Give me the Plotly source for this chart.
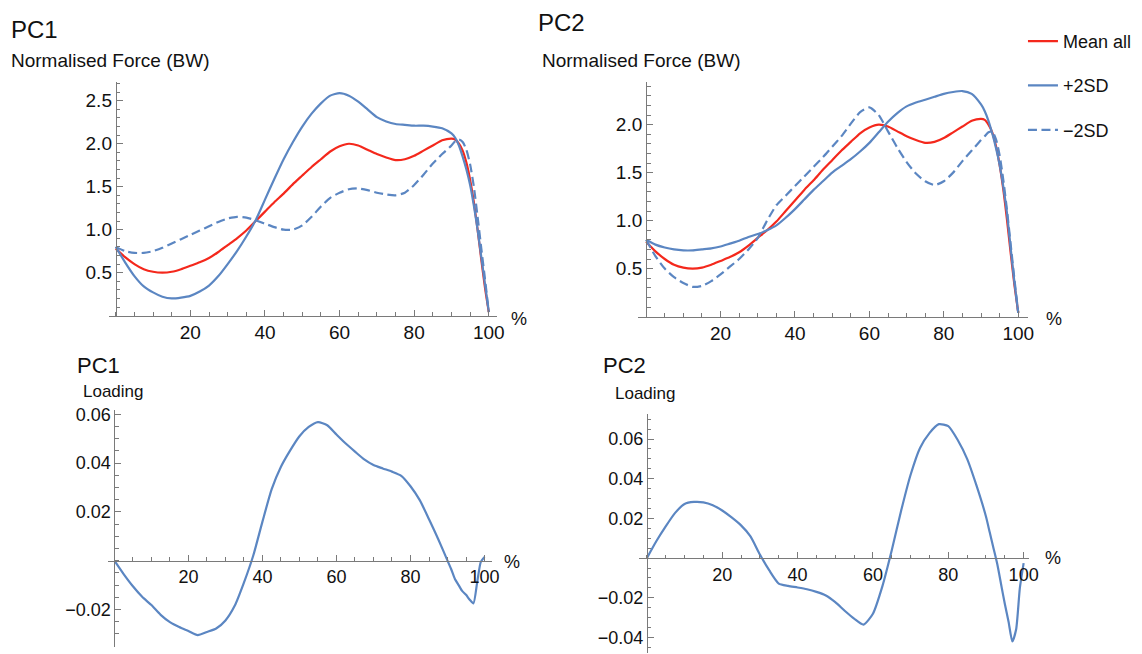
import plotly.graph_objects as go

# ---------------- data ----------------
pct = [0, 2.5, 5, 7.5, 10, 12.5, 15, 17.5, 20, 22.5, 25, 27.5, 30, 32.5, 35, 37.5,
       40, 42.5, 45, 47.5, 50, 52.5, 55, 57.5, 60, 62.5, 65, 67.5, 70, 72.5, 75, 77.5,
       80, 82.5, 85, 87.5, 90, 91, 92, 93, 94, 95, 96, 97, 98, 99, 100]

mean_all = [0.78, 0.68, 0.60, 0.54, 0.51, 0.50, 0.51, 0.54, 0.58, 0.62, 0.67, 0.74, 0.82, 0.90, 0.99, 1.10,
            1.21, 1.32, 1.42, 1.53, 1.63, 1.73, 1.82, 1.91, 1.97, 2.00, 1.98, 1.93, 1.88, 1.84, 1.81, 1.82,
            1.86, 1.92, 1.98, 2.04, 2.06, 2.05, 2.00, 1.92, 1.78, 1.58, 1.32, 1.00, 0.65, 0.32, 0.04]

pc1_plus = [0.80, 0.62, 0.46, 0.34, 0.27, 0.22, 0.20, 0.21, 0.23, 0.28, 0.35, 0.46, 0.60, 0.75, 0.92, 1.11,
            1.35, 1.59, 1.82, 2.02, 2.20, 2.35, 2.47, 2.56, 2.59, 2.56, 2.49, 2.40, 2.31, 2.26, 2.23, 2.22,
            2.21, 2.21, 2.20, 2.18, 2.12, 2.07, 1.98, 1.85, 1.70, 1.52, 1.28, 1.00, 0.68, 0.36, 0.05]

pc1_minus = [0.80, 0.75, 0.73, 0.73, 0.75, 0.79, 0.84, 0.89, 0.94, 0.99, 1.04, 1.09, 1.13, 1.15, 1.14, 1.11,
             1.07, 1.03, 1.00, 1.00, 1.05, 1.15, 1.27, 1.37, 1.43, 1.47, 1.48, 1.46, 1.43, 1.41, 1.40, 1.43,
             1.52, 1.64, 1.77, 1.88, 1.98, 2.03, 2.05, 2.02, 1.93, 1.76, 1.50, 1.15, 0.78, 0.42, 0.04]

pc2_plus = [0.80, 0.75, 0.72, 0.70, 0.69, 0.69, 0.70, 0.71, 0.73, 0.76, 0.79, 0.83, 0.86, 0.90, 0.95, 1.03,
            1.12, 1.22, 1.32, 1.41, 1.50, 1.57, 1.64, 1.72, 1.81, 1.92, 2.03, 2.12, 2.19, 2.23, 2.26, 2.29,
            2.32, 2.34, 2.35, 2.32, 2.21, 2.14, 2.04, 1.91, 1.76, 1.58, 1.35, 1.07, 0.70, 0.35, 0.04]

pc2_minus = [0.80, 0.63, 0.50, 0.41, 0.35, 0.31, 0.32, 0.37, 0.44, 0.52, 0.60, 0.70, 0.82, 1.00, 1.16, 1.26,
             1.36, 1.46, 1.56, 1.66, 1.77, 1.88, 2.01, 2.13, 2.18, 2.10, 1.93, 1.76, 1.61, 1.49, 1.41, 1.37,
             1.41, 1.50, 1.62, 1.73, 1.84, 1.88, 1.92, 1.93, 1.85, 1.68, 1.42, 1.10, 0.74, 0.38, 0.04]

pc1_loading = [0.0, -0.0055, -0.0105, -0.0148, -0.0182, -0.0222, -0.0252, -0.0272, -0.0288, -0.0305,
               -0.0292, -0.0278, -0.0245, -0.0185, -0.0090, 0.0020, 0.0160, 0.0293, 0.0385, 0.0452,
               0.0510, 0.0548, 0.0568, 0.0555, 0.0517, 0.0480, 0.0447, 0.0415, 0.0392, 0.0378,
               0.0365, 0.0348, 0.0305, 0.0248, 0.0170, 0.0088, 0.0000, -0.0035, -0.0075, -0.0100,
               -0.0125, -0.0140, -0.0160, -0.0175, -0.0090, -0.0005, 0.0015]

pc2_loading = [0.0, 0.0085, 0.0160, 0.0228, 0.0273, 0.0283, 0.0281, 0.0267, 0.0240, 0.0205,
               0.0165, 0.0110, 0.0018, -0.0062, -0.0128, -0.0140, -0.0148, -0.0157, -0.0170, -0.0188,
               -0.0222, -0.0265, -0.0305, -0.0335, -0.0280, -0.0142, 0.0040, 0.0240, 0.0420, 0.0555,
               0.0630, 0.0675, 0.0665, 0.0595, 0.0500, 0.0365, 0.0210, 0.0130, 0.0050, -0.0030,
               -0.0130, -0.0230, -0.0320, -0.0420, -0.0360, -0.0150, -0.0025]

x_tick_vals = [20, 40, 60, 80, 100]
force_tick_vals = [0.5, 1.0, 1.5, 2.0, 2.5]
force_tick_text = ["0.5", "1.0", "1.5", "2.0", "2.5"]
force2_tick_vals = [0.5, 1.0, 1.5, 2.0]
force2_tick_text = ["0.5", "1.0", "1.5", "2.0"]
load1_tick_vals = [-0.02, 0.02, 0.04, 0.06]
load1_tick_text = ["\u22120.02", "0.02", "0.04", "0.06"]
load2_tick_vals = [-0.04, -0.02, 0.02, 0.04, 0.06]
load2_tick_text = ["\u22120.04", "\u22120.02", "0.02", "0.04", "0.06"]

# ---------------- styling ----------------
W, H = 1142, 654
BLUE = "#5b86c2"
RED = "#f4281c"
AX = "#7a7a7a"
FONT = "Liberation Sans, Arial, Helvetica, sans-serif"

def px(v):
    return v / W

def py(v):
    return 1 - v / H

fig = go.Figure()

def line(x, y, xa, ya, color, dash=None, name=None, show=False, group=None):
    fig.add_trace(go.Scatter(
        x=x, y=y, xaxis=xa, yaxis=ya, mode="lines", name=name,
        showlegend=show, legendgroup=group,
        line=dict(color=color, width=2.2, dash=dash, shape="spline", smoothing=0.6),
        hoverinfo="skip"))

DASH = "9px,4.5px"
# Top-left PC1
line(pct, mean_all, "x", "y", RED, name="Mean all", show=True, group="a")
line(pct, pc1_plus, "x", "y", BLUE, name="+2SD", show=True, group="b")
line(pct, pc1_minus, "x", "y", BLUE, dash=DASH, name="\u22122SD", show=True, group="c")
# Top-right PC2
line(pct, mean_all, "x2", "y2", RED)
line(pct, pc2_plus, "x2", "y2", BLUE)
line(pct, pc2_minus, "x2", "y2", BLUE, dash=DASH)
# Bottom loadings
line(pct, pc1_loading, "x3", "y3", BLUE)
line(pct, pc2_loading, "x4", "y4", BLUE)

tickfont = dict(family=FONT, size=19, color="#111")
tickfont_b = dict(family=FONT, size=18, color="#111")

def xaxis(domain, rng, anchor, position=None, font=tickfont):
    d = dict(domain=[px(domain[0]), px(domain[1])], range=rng, showgrid=False, zeroline=False,
             showline=True, linecolor=AX, linewidth=1,
             tickmode="array", tickvals=x_tick_vals, ticks="inside", ticklen=6, tickcolor=AX,
             tickfont=font,
             minor=dict(tickmode="linear", tick0=0, dtick=5, ticks="inside", ticklen=3.5, tickcolor=AX),
             fixedrange=True)
    if position is not None:
        d["anchor"] = "free"
        d["position"] = py(position)
    else:
        d["anchor"] = anchor
    return d

def yaxis(domain, rng, xpos, vals, text, minor_dt, font=tickfont):
    return dict(domain=[py(domain[1]), py(domain[0])], range=rng, showgrid=False, zeroline=False,
                showline=True, linecolor=AX, linewidth=1, anchor="free", position=px(xpos),
                tickmode="array", tickvals=vals, ticktext=text, ticks="inside", ticklen=6, tickcolor=AX,
                tickfont=font,
                minor=dict(tickmode="linear", tick0=0, dtick=minor_dt, ticks="inside", ticklen=3.5, tickcolor=AX),
                fixedrange=True)

fig.update_layout(
    width=W, height=H, margin=dict(l=0, r=0, t=0, b=0),
    paper_bgcolor="white", plot_bgcolor="white",
    font=dict(family=FONT, color="#111"),
    xaxis=xaxis((110.2, 501), [-1.75, 102.1], "y"),
    yaxis=yaxis((78, 313), [0, 2.714], 116.8, force_tick_vals, force_tick_text, 0.1),
    xaxis2=xaxis((643.2, 1037), [-2.3, 102.6], "y2"),
    yaxis2=yaxis((78, 314), [0, 2.44], 651.8, force2_tick_vals, force2_tick_text, 0.1),
    xaxis3=xaxis((108.5, 495.9), [-1.85, 101.9], None, position=560, font=tickfont_b),
    yaxis3=yaxis((408, 647), [-0.0354, 0.0618], 115.4, load1_tick_vals, load1_tick_text, 0.005, font=tickfont_b),
    xaxis4=xaxis((644.6, 1038), [-2.1, 101.4], None, position=557.4, font=tickfont_b),
    yaxis4=yaxis((412, 653), [-0.0478, 0.0727], 652.7, load2_tick_vals, load2_tick_text, 0.005, font=tickfont_b),
    legend=dict(x=px(1032), y=py(18), xanchor="left", yanchor="top",
                font=dict(family=FONT, size=18, color="#111"),
                tracegroupgap=18, itemwidth=30, bgcolor="rgba(0,0,0,0)"),
)

def label(text, x, y, size, xanchor="left"):
    fig.add_annotation(text=text, x=px(x), y=py(y), xref="paper", yref="paper",
                       xanchor=xanchor, yanchor="middle", showarrow=False,
                       font=dict(family=FONT, size=size, color="#111"))

label("PC1", 9, 25, 24)
label("Normalised Force (BW)", 9, 55.5, 19)
label("PC2", 541, 18, 24)
label("Normalised Force (BW)", 545, 55.5, 19)
label("PC1", 76, 363.5, 22)
label("Loading", 82, 389, 17)
label("PC2", 606, 363, 22)
label("Loading", 618, 391.5, 17)
label("%", 524, 316, 18, xanchor="center")
label("%", 1063, 316, 18, xanchor="center")
label("%", 517, 561, 18, xanchor="center")
label("%", 1062, 557, 18, xanchor="center")

fig.write_html(
    "out.html",
    config={"displayModeBar": False},
    post_script="document.body.style.margin='0';document.body.style.padding='0';"
                "document.documentElement.style.overflow='hidden';",
)
